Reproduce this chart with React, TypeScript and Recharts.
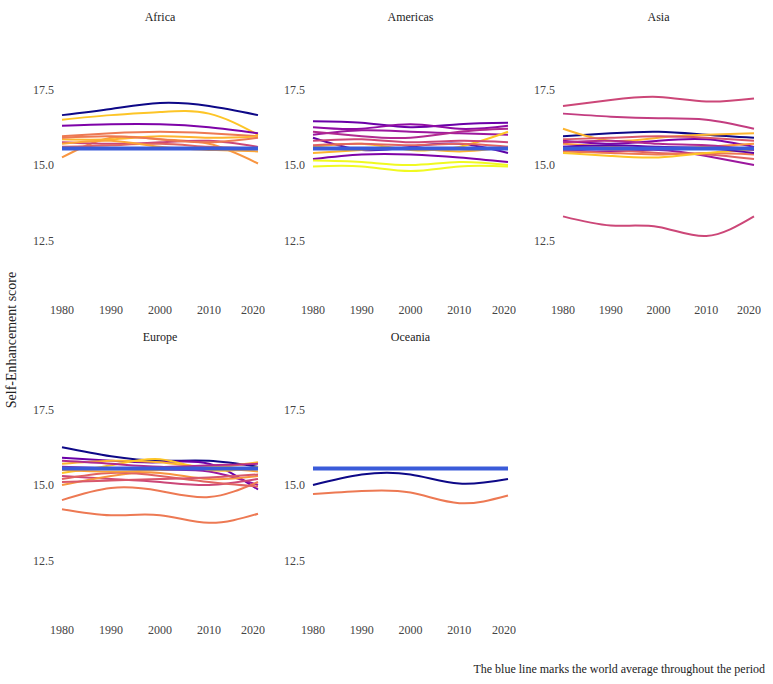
import React from "react";
import { LineChart, Line, XAxis, YAxis, ReferenceLine } from "recharts";

const years = [1980, 1990, 2000, 2010, 2020];
const xTicks = [1980, 1990, 2000, 2010, 2020];
const yTicks = [12.5, 15.0, 17.5];
const worldAverage = 15.55;

type S = { c: string; v: number[] };

const africa: S[] = [
  { c: "#0d0887", v: [16.65, 16.85, 17.05, 16.95, 16.65] },
  { c: "#fdc527", v: [16.5, 16.65, 16.75, 16.7, 16.0] },
  { c: "#7e03a8", v: [16.3, 16.35, 16.35, 16.25, 16.05] },
  { c: "#ed7953", v: [15.95, 16.05, 16.1, 16.05, 15.95] },
  { c: "#f89540", v: [15.25, 15.9, 15.85, 15.7, 15.05] },
  { c: "#fdb42f", v: [15.85, 15.85, 15.95, 15.9, 15.95] },
  { c: "#cc4778", v: [15.75, 15.7, 15.75, 15.8, 15.6] },
  { c: "#e16462", v: [15.6, 15.65, 15.7, 15.6, 15.55] },
  { c: "#fca636", v: [15.7, 15.8, 15.6, 15.5, 15.45] },
  { c: "#ed7953", v: [15.9, 15.95, 15.85, 15.75, 15.9] },
];
const americas: S[] = [
  { c: "#6a00a8", v: [16.45, 16.4, 16.25, 16.35, 16.4] },
  { c: "#8f0da4", v: [16.25, 16.2, 16.35, 16.2, 16.3] },
  { c: "#9c179e", v: [16.0, 16.15, 16.1, 16.05, 16.0] },
  { c: "#b12a90", v: [16.1, 15.95, 15.9, 16.1, 16.2] },
  { c: "#5c01a6", v: [15.9, 15.5, 15.6, 15.7, 15.4] },
  { c: "#7e03a8", v: [15.2, 15.35, 15.35, 15.25, 15.1] },
  { c: "#fdc527", v: [15.6, 15.7, 15.5, 15.6, 16.1] },
  { c: "#f0f921", v: [15.15, 15.1, 15.0, 15.1, 15.0] },
  { c: "#f0f921", v: [14.95, 14.95, 14.8, 14.95, 14.95] },
  { c: "#fdb42f", v: [15.4, 15.5, 15.55, 15.45, 15.6] },
  { c: "#cc4778", v: [15.8, 15.85, 15.75, 15.8, 15.75] },
  { c: "#e16462", v: [15.65, 15.7, 15.65, 15.7, 15.6] },
];
const asia: S[] = [
  { c: "#cc4778", v: [16.95, 17.15, 17.25, 17.1, 17.2] },
  { c: "#cc4778", v: [13.3, 13.0, 12.95, 12.65, 13.3] },
  { c: "#c33d80", v: [16.7, 16.6, 16.55, 16.5, 16.2] },
  { c: "#0d0887", v: [15.95, 16.05, 16.1, 16.0, 15.9] },
  { c: "#fdb42f", v: [16.2, 15.8, 15.9, 16.0, 16.05] },
  { c: "#7e03a8", v: [15.8, 15.7, 15.8, 15.85, 15.6] },
  { c: "#9c179e", v: [15.5, 15.45, 15.5, 15.3, 15.0] },
  { c: "#e16462", v: [15.6, 15.5, 15.4, 15.35, 15.2] },
  { c: "#ed7953", v: [15.45, 15.4, 15.35, 15.4, 15.35] },
  { c: "#f89540", v: [15.7, 15.6, 15.55, 15.6, 15.7] },
  { c: "#fdc527", v: [15.4, 15.3, 15.25, 15.4, 15.5] },
  { c: "#b12a90", v: [15.75, 15.8, 15.7, 15.65, 15.5] },
  { c: "#5c01a6", v: [15.6, 15.65, 15.6, 15.55, 15.4] },
  { c: "#d8576b", v: [15.85, 15.9, 15.95, 15.9, 15.8] },
];
const europe: S[] = [
  { c: "#0d0887", v: [16.25, 15.95, 15.8, 15.8, 15.6] },
  { c: "#6a00a8", v: [15.9, 15.8, 15.75, 15.7, 14.85] },
  { c: "#9c179e", v: [15.6, 15.55, 15.5, 15.45, 15.0] },
  { c: "#cc4778", v: [15.3, 15.2, 15.1, 15.0, 15.2] },
  { c: "#ed7953", v: [14.5, 14.9, 14.8, 14.6, 15.1] },
  { c: "#ed7953", v: [14.2, 14.0, 14.0, 13.75, 14.05] },
  { c: "#fdb42f", v: [15.7, 15.8, 15.75, 15.6, 15.75] },
  { c: "#fdc527", v: [15.4, 15.65, 15.85, 15.5, 15.6] },
  { c: "#f89540", v: [15.0, 15.3, 15.4, 15.2, 15.3] },
  { c: "#e16462", v: [15.2, 15.4, 15.3, 15.1, 14.95] },
  { c: "#fca636", v: [15.5, 15.45, 15.5, 15.55, 15.45] },
  { c: "#b12a90", v: [15.8, 15.7, 15.6, 15.65, 15.7] },
  { c: "#d8576b", v: [15.1, 15.15, 15.2, 15.25, 15.35] },
];
const oceania: S[] = [
  { c: "#0d0887", v: [15.0, 15.35, 15.35, 15.05, 15.2] },
  { c: "#ed7953", v: [14.7, 14.8, 14.75, 14.4, 14.65] },
];

const font = "'Liberation Serif', 'Times New Roman', serif";
const tickStyle = { fill: "#444", fontSize: 12, style: { fontFamily: font } } as any;

function Panel({ title, series, left, top, width, right }: { title: string; series: S[]; left: number; top: number; width: number; right: number }) {
  const data = years.map((y, i) => {
    const row: any = { year: y };
    series.forEach((s, j) => (row["s" + j] = s.v[i]));
    return row;
  });
  const plotLeft = left + 52;
  const plotRight = left + width - right;
  return (
    <>
      <div style={{ position: "absolute", left: plotLeft, width: plotRight - plotLeft, top: top - 22, textAlign: "center", fontFamily: font, fontSize: 12, color: "#222" }}>{title}</div>
      <div style={{ position: "absolute", left, top: top - 5, fontFamily: font }}>
        <LineChart width={width} height={296} data={data} margin={{ top: 5, right, bottom: 0, left: 0 }} style={{ fontFamily: font }}>
          <XAxis dataKey="year" type="number" domain={[1980, 2020]} ticks={xTicks} axisLine={false} tickLine={false} tick={tickStyle} height={25} tickMargin={1} />
          <YAxis type="number" domain={[10.6, 19.4]} ticks={yTicks} tickFormatter={(v) => v.toFixed(1)} axisLine={false} tickLine={false} width={52} tick={tickStyle} />
          {series.map((s, j) => (
            <Line key={j} dataKey={"s" + j} type="natural" stroke={s.c} strokeWidth={2} dot={false} isAnimationActive={false} />
          ))}
          <ReferenceLine y={worldAverage} stroke="#3a5bd9" strokeWidth={4} ifOverflow="visible" />
        </LineChart>
      </div>
    </>
  );
}

export default function App() {
  return (
    <div style={{ position: "absolute", left: 0, top: 0, width: 773, height: 684, background: "#fff", fontFamily: font }}>
      <Panel title="Africa" series={africa} left={10} top={32} width={255} right={7} />
      <Panel title="Americas" series={americas} left={261} top={32} width={255} right={8} />
      <Panel title="Asia" series={asia} left={511} top={32} width={250} right={7} />
      <Panel title="Europe" series={europe} left={10} top={352} width={255} right={7} />
      <Panel title="Oceania" series={oceania} left={261} top={352} width={255} right={8} />
      <div style={{ position: "absolute", left: 12, top: 340, transform: "translate(-50%, -50%) rotate(-90deg)", whiteSpace: "nowrap", fontFamily: font, fontSize: 14, color: "#222" }}>Self-Enhancement score</div>
      <div style={{ position: "absolute", right: 8, top: 662, whiteSpace: "nowrap", fontFamily: font, fontSize: 12, color: "#222" }}>The blue line marks the world average throughout the period</div>
    </div>
  );
}
